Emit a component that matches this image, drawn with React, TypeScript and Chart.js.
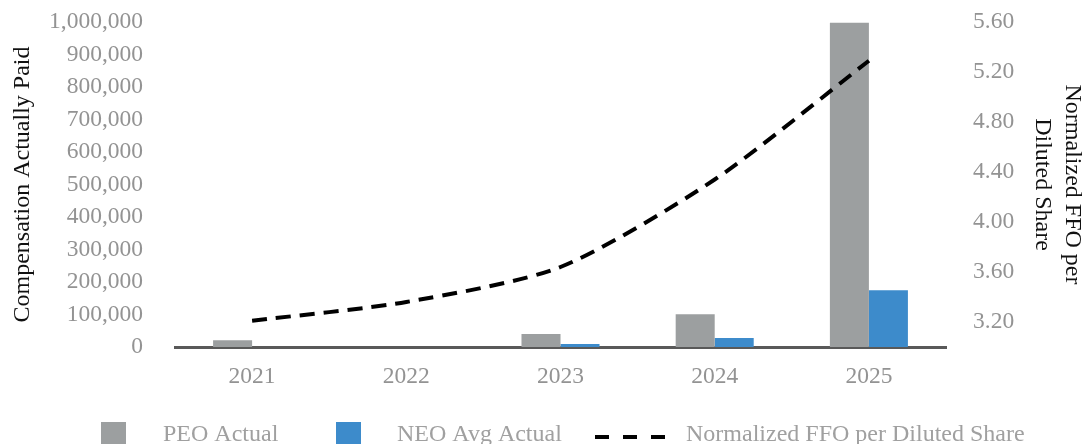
import React, { useEffect, useRef } from "react";
import { Chart, registerables } from "chart.js";

Chart.register(...registerables);

// Fiscal years on the category axis
const years = ["2021", "2022", "2023", "2024", "2025"];

// Compensation actually paid (left axis, dollars)
const peoActual = [21000, 0, 40000, 101000, 998000];
const neoAvgActual = [0, 0, 9000, 28000, 175000];

// Normalized FFO per diluted share (right axis, dollars per share)
const ffoPerShare = [3.21, 3.36, 3.64, 4.34, 5.29];

// Right axis tick values
const ffoTicks = [3.2, 3.6, 4.0, 4.4, 4.8, 5.2, 5.6];

const SERIF = '"Liberation Serif", "Times New Roman", Times, serif';
const PEO_COLOR = "#9c9fa0";
const NEO_COLOR = "#3d8bcb";
const TICK_COLOR = "#939393";
const TICK_SIZE = 23.5;
const TITLE_SIZE = 24;

// Bottom legend drawn straight onto the canvas: box swatches for the bars,
// a dashed stroke for the line.
const bottomLegend = {
  id: "bottomLegend",
  afterDraw(chart: any) {
    const ctx = chart.ctx as CanvasRenderingContext2D;
    const items = [
      { idx: 1, kind: "box", x: 101, textX: 163 },
      { idx: 2, kind: "box", x: 336, textX: 397 },
      { idx: 0, kind: "dash", x: 595, textX: 686 },
    ];
    const midY = 435;
    ctx.save();
    ctx.font = `24px ${SERIF}`;
    ctx.textBaseline = "middle";
    ctx.textAlign = "left";
    for (const it of items) {
      const ds = chart.data.datasets[it.idx];
      if (it.kind === "box") {
        ctx.fillStyle = ds.backgroundColor;
        ctx.fillRect(it.x, 422, 25, 25);
      } else {
        ctx.strokeStyle = ds.borderColor;
        ctx.lineWidth = 4;
        ctx.setLineDash([14, 14]);
        ctx.beginPath();
        ctx.moveTo(it.x, midY + 2);
        ctx.lineTo(it.x + 72, midY + 2);
        ctx.stroke();
        ctx.setLineDash([]);
      }
      ctx.fillStyle = "#a0a0a0";
      ctx.fillText(ds.label, it.textX, midY);
    }
    ctx.restore();
  },
};

// Vertical axes keep a fixed width and ask for no extra top/bottom room,
// so the plot area is set by the layout padding alone.
function fixVertical(width: number) {
  return (scale: any) => {
    scale.width = width;
    scale.paddingTop = 0;
    scale.paddingBottom = 0;
  };
}

export default function App() {
  const canvasRef = useRef<HTMLCanvasElement | null>(null);

  useEffect(() => {
    document.body.style.margin = "0";
    const canvas = canvasRef.current;
    if (!canvas) return;

    const chart = new Chart(canvas, {
      type: "bar",
      data: {
        labels: years,
        datasets: [
          {
            type: "line",
            label: "Normalized FFO per Diluted Share",
            data: ffoPerShare,
            yAxisID: "y1",
            borderColor: "#000000",
            backgroundColor: "#000000",
            borderWidth: 4,
            borderDash: [15, 9],
            borderCapStyle: "butt",
            pointRadius: 0,
            tension: 0.25,
            fill: false,
            clip: false,
            order: 0,
          } as any,
          {
            type: "bar",
            label: "PEO Actual",
            data: peoActual,
            yAxisID: "y",
            backgroundColor: PEO_COLOR,
            categoryPercentage: 0.506,
            barPercentage: 1,
            order: 1,
          },
          {
            type: "bar",
            label: "NEO Avg Actual",
            data: neoAvgActual,
            yAxisID: "y",
            backgroundColor: NEO_COLOR,
            categoryPercentage: 0.506,
            barPercentage: 1,
            order: 2,
          },
        ],
      },
      options: {
        responsive: false,
        animation: false,
        layout: { padding: { top: 22, bottom: 42, left: 0, right: 0 } },
        plugins: {
          legend: { display: false },
          tooltip: { enabled: false },
        },
        scales: {
          x: {
            type: "category",
            grid: { display: false, drawTicks: false },
            border: { display: true, color: "#595959", width: 3 },
            ticks: {
              color: TICK_COLOR,
              font: { family: SERIF, size: TICK_SIZE },
              padding: 16,
              maxRotation: 0,
            },
            afterFit(scale: any) {
              scale.height = 55;
              scale.paddingLeft = 0;
              scale.paddingRight = 0;
            },
          },
          y: {
            type: "linear",
            position: "left",
            min: 0,
            max: 1000000,
            grid: { display: false, drawTicks: false },
            border: { display: false },
            ticks: {
              stepSize: 100000,
              autoSkip: false,
              color: TICK_COLOR,
              font: { family: SERIF, size: TICK_SIZE },
              padding: 32,
              callback: (v: any) => Number(v).toLocaleString("en-US"),
            },
            title: {
              display: true,
              text: "Compensation Actually Paid",
              color: "#111111",
              font: { family: SERIF, size: TITLE_SIZE },
              padding: { top: 8, bottom: 0 },
            },
            afterFit: fixVertical(175),
          },
          y1: {
            type: "linear",
            position: "right",
            min: 3.0,
            max: 5.6,
            grid: { display: false, drawTicks: false },
            border: { display: false },
            afterBuildTicks(scale: any) {
              scale.ticks = ffoTicks.map((value) => ({ value }));
            },
            ticks: {
              autoSkip: false,
              color: TICK_COLOR,
              font: { family: SERIF, size: TICK_SIZE },
              padding: 27,
              callback: (v: any) => Number(v).toFixed(2),
            },
            title: {
              display: true,
              text: ["Normalized FFO per", "Diluted Share"],
              color: "#111111",
              font: { family: SERIF, size: TITLE_SIZE, lineHeight: 1.25 },
              padding: { top: -5, bottom: 0 },
            },
            afterFit: fixVertical(136),
          },
        },
      } as any,
      plugins: [bottomLegend],
    });

    return () => chart.destroy();
  }, []);

  return (
    <div style={{ width: 1082, height: 444, background: "#ffffff" }}>
      <canvas ref={canvasRef} width={1082} height={444} style={{ display: "block" }} />
    </div>
  );
}
